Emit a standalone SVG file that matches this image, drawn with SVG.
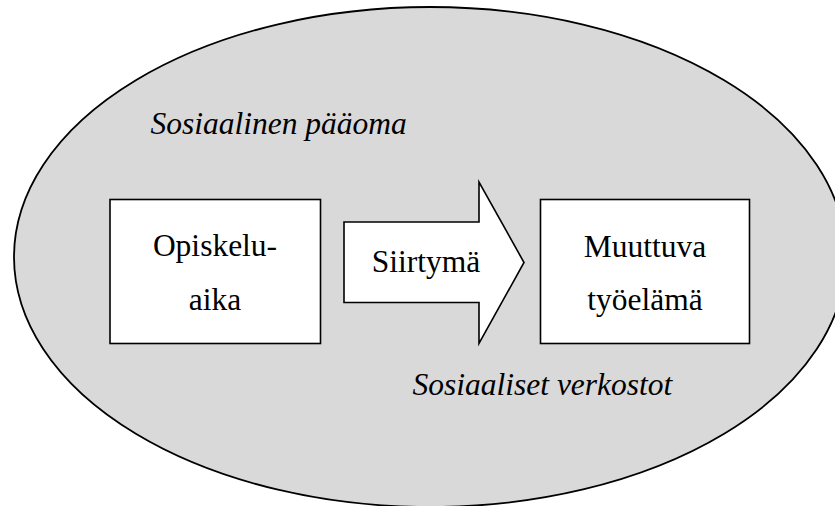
<svg xmlns="http://www.w3.org/2000/svg" width="835" height="506" viewBox="0 0 835 506">
<style>
.shape{fill:#ffffff;stroke:#000000;stroke-width:1.6}
.t{font-family:'Liberation Serif','Tinos','Times New Roman','DejaVu Serif',serif;font-size:31.5px;fill:#000000}
.i{font-style:italic}
</style>
<rect width="835" height="506" fill="#ffffff"/>
<g id="ellipse">
<ellipse cx="430" cy="257" rx="416" ry="250" fill="#d9d9d9" stroke="#000000" stroke-width="1.8"/>
<text class="t i" x="150.5" y="133.5" font-family="Liberation Serif, serif">Sosiaalinen pääoma</text>
<text class="t i" x="412.5" y="395" font-family="Liberation Serif, serif">Sosiaaliset verkostot</text>
</g>
<g id="opiskeluaika">
<rect class="shape" x="110" y="199.5" width="210.5" height="144"/>
<text class="t" x="215" y="255.5" text-anchor="middle">Opiskelu-</text>
<text class="t" x="215" y="310" text-anchor="middle">aika</text>
</g>
<g id="connectors">
<g id="siirtyma">
<path class="shape" d="M344,222 L479,222 L479,182 L524,262.5 L479,343.5 L479,302.5 L344,302.5 Z"/>
<text class="t" x="426" y="271.5" text-anchor="middle">Siirtymä</text>
</g>
</g>
<g id="muuttuva">
<rect class="shape" x="540.5" y="199.5" width="209" height="144"/>
<text class="t" x="645" y="256.5" text-anchor="middle">Muuttuva</text>
<text class="t" x="645" y="310" text-anchor="middle">työelämä</text>
</g>
</svg>
